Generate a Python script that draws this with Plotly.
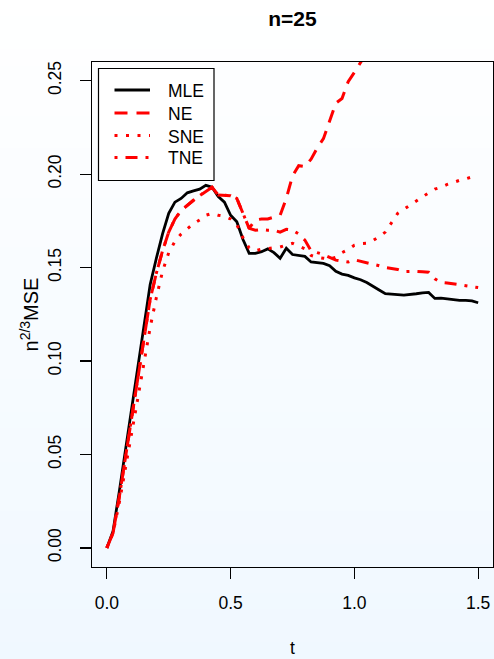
import plotly.graph_objects as go

# ---- data ----
t = [0.0, 0.025, 0.05, 0.075, 0.1, 0.125, 0.15, 0.175, 0.2, 0.225,
     0.25, 0.275, 0.3, 0.325, 0.35, 0.375, 0.4, 0.425, 0.45, 0.475,
     0.5, 0.525, 0.55, 0.575, 0.6, 0.625, 0.65, 0.675, 0.7, 0.725,
     0.75, 0.775, 0.8, 0.825, 0.85, 0.875, 0.9, 0.925, 0.95, 0.975,
     1.0, 1.025, 1.05, 1.075, 1.1, 1.125, 1.15, 1.175, 1.2, 1.225,
     1.25, 1.275, 1.3, 1.325, 1.35, 1.375, 1.4, 1.425, 1.45, 1.475, 1.5]

mle = [0.0, 0.009, 0.030, 0.052, 0.0745, 0.097, 0.120, 0.141, 0.155, 0.168,
       0.179, 0.185, 0.187, 0.190, 0.191, 0.192, 0.194, 0.193, 0.188, 0.185,
       0.178, 0.1745, 0.165, 0.1576, 0.1576, 0.1585, 0.160, 0.158, 0.155, 0.1603,
       0.157, 0.1565, 0.156, 0.153, 0.1526, 0.1522, 0.151, 0.148, 0.1465, 0.1458,
       0.1445, 0.1435, 0.142, 0.1402, 0.138, 0.136, 0.1356, 0.1355, 0.1353, 0.1355,
       0.136, 0.1365, 0.1367, 0.1335, 0.1337, 0.1333, 0.1328, 0.1325, 0.1325, 0.1322, 0.1312]

# NE leaves the top of the panel just after t = 1.0
ne = [0.0, 0.008, 0.027, 0.048, 0.069, 0.091, 0.113, 0.133, 0.147, 0.159,
      0.169, 0.176, 0.1805, 0.1835, 0.186, 0.1885, 0.191, 0.193, 0.1888, 0.1888,
      0.1885, 0.187, 0.179, 0.171, 0.1755, 0.176, 0.176, 0.1768, 0.178, 0.187,
      0.199, 0.2045, 0.204, 0.208, 0.214, 0.219, 0.228, 0.238, 0.2405, 0.2495,
      0.2545, 0.2595, 0.265]

sne = [0.0, 0.008, 0.024, 0.042, 0.061, 0.080, 0.099, 0.118, 0.134, 0.148,
       0.158, 0.164, 0.168, 0.171, 0.1735, 0.1755, 0.178, 0.179, 0.178, 0.1775,
       0.176, 0.173, 0.166, 0.1605, 0.159, 0.1598, 0.160, 0.1606, 0.161, 0.162,
       0.163, 0.1615, 0.160, 0.1565, 0.1555, 0.155, 0.1545, 0.1555, 0.158, 0.1597,
       0.162, 0.1628, 0.163, 0.1645, 0.1665, 0.169, 0.1737, 0.179, 0.1812, 0.1835,
       0.1856, 0.188, 0.190, 0.192, 0.193, 0.1945, 0.1958, 0.1967, 0.1975, 0.1985, 0.199]

tne = [0.0, 0.008, 0.027, 0.048, 0.069, 0.091, 0.113, 0.133, 0.147, 0.159,
       0.169, 0.176, 0.1805, 0.1835, 0.186, 0.1885, 0.191, 0.193, 0.1888, 0.1888,
       0.1885, 0.187, 0.179, 0.171, 0.170, 0.1704, 0.170, 0.170, 0.169, 0.1705,
       0.170, 0.168, 0.1647, 0.159, 0.158, 0.157, 0.1555, 0.154, 0.1535, 0.153,
       0.1542, 0.1535, 0.1525, 0.152, 0.151, 0.150, 0.1497, 0.149, 0.1478, 0.148,
       0.148, 0.1478, 0.1475, 0.144, 0.1421, 0.1418, 0.1413, 0.1405, 0.140, 0.1396, 0.1393]

series_names = ["MLE", "NE", "SNE", "TNE"]
x_ticks = [0.0, 0.5, 1.0, 1.5]
y_ticks = [0.00, 0.05, 0.10, 0.15, 0.20, 0.25]

# ---- figure ----
W, H = 494, 659
ML, MR, MT, MB = 92, 1, 62, 92
PW = W - ML - MR
PH = H - MT - MB
FONT = "Liberation Sans, Arial, Helvetica, sans-serif"


def px_x(px):
    return (px - ML) / PW


def px_y(py):
    return 1 - (py - MT) / PH


styles = [
    dict(color="black", width=2.8, dash="solid"),
    dict(color="red", width=3, dash="13px,9px"),
    dict(color="red", width=3, dash="3px,8.5px"),
    dict(color="red", width=3, dash="3px,8px,12px,8px"),
]

fig = go.Figure()
for name, vals, st in zip(series_names, [mle, ne, sne, tne], styles):
    fig.add_trace(go.Scatter(x=t[:len(vals)], y=vals, mode="lines", name=name,
                             line=st, hoverinfo="skip", showlegend=False))

shapes = []
# light vertical background gradient (white -> aliceblue)
nb = 40
top_c = (255, 255, 255)
bot_c = (240, 248, 255)
for i in range(nb):
    f = (i + 0.5) / nb
    c = tuple(round(top_c[k] + (bot_c[k] - top_c[k]) * f) for k in range(3))
    shapes.append(dict(type="rect", xref="paper", yref="paper", layer="below",
                       x0=px_x(-2), x1=px_x(W + 2),
                       y0=px_y(H * (i + 1) / nb + 1), y1=px_y(H * i / nb),
                       line=dict(width=0), fillcolor="rgb(%d,%d,%d)" % c))

# legend box (R style, top-left inside the panel)
shapes.append(dict(type="rect", xref="paper", yref="paper", layer="above",
                   x0=px_x(98.5), x1=px_x(214), y0=px_y(180.5), y1=px_y(68.5),
                   line=dict(color="black", width=1.2), fillcolor="white"))
annotations = []
leg_y = [90, 113, 135.5, 157.5]
for name, st, yy in zip(series_names, styles, leg_y):
    shapes.append(dict(type="line", xref="paper", yref="paper", layer="above",
                       x0=px_x(114.5), x1=px_x(150), y0=px_y(yy), y1=px_y(yy),
                       line=dict(color=st["color"], width=st["width"], dash=st["dash"])))
    annotations.append(dict(text=name, xref="paper", yref="paper",
                            x=px_x(165.5), y=px_y(yy + 1), xanchor="left",
                            yanchor="middle", showarrow=False,
                            font=dict(size=17.5, family=FONT, color="black")))

fig.update_layout(
    width=W, height=H,
    margin=dict(l=ML, r=MR, t=MT, b=MB, autoexpand=False),
    paper_bgcolor="white",
    plot_bgcolor="rgba(0,0,0,0)",
    shapes=shapes,
    annotations=annotations,
    showlegend=False,
    font=dict(family=FONT, size=17.5, color="black"),
    title=dict(text="<b>n=25</b>", x=0.5, xref="paper", xanchor="center",
               y=1 - 18.5 / H, yref="container", yanchor="middle",
               font=dict(size=21, family=FONT, color="black")),
    xaxis=dict(range=[-0.06, 1.56], tickvals=x_ticks, tickformat=".1f",
               showgrid=False, zeroline=False, showline=True, linecolor="black",
               linewidth=1.2, mirror=True, ticks="outside", ticklen=11,
               tickwidth=1.2, tickcolor="black", ticklabelstandoff=9,
               tickfont=dict(size=17.5),
               title=dict(text="t", standoff=29, font=dict(size=17.5))),
    yaxis=dict(range=[-0.0102, 0.26], tickvals=y_ticks, tickformat=".2f",
               tickangle=-90,
               showgrid=False, zeroline=False, showline=True, linecolor="black",
               linewidth=1.2, mirror=True, ticks="outside", ticklen=11,
               tickwidth=1.2, tickcolor="black", ticklabelstandoff=12,
               tickfont=dict(size=17.5),
               title=dict(text="n<sup>2/3</sup>MSE", standoff=0, font=dict(size=20))),
)

fig.write_html("out.html",
               config={"displayModeBar": False, "staticPlot": True},
               post_script="document.body.style.margin='0';"
                           "document.body.style.overflow='hidden';")
